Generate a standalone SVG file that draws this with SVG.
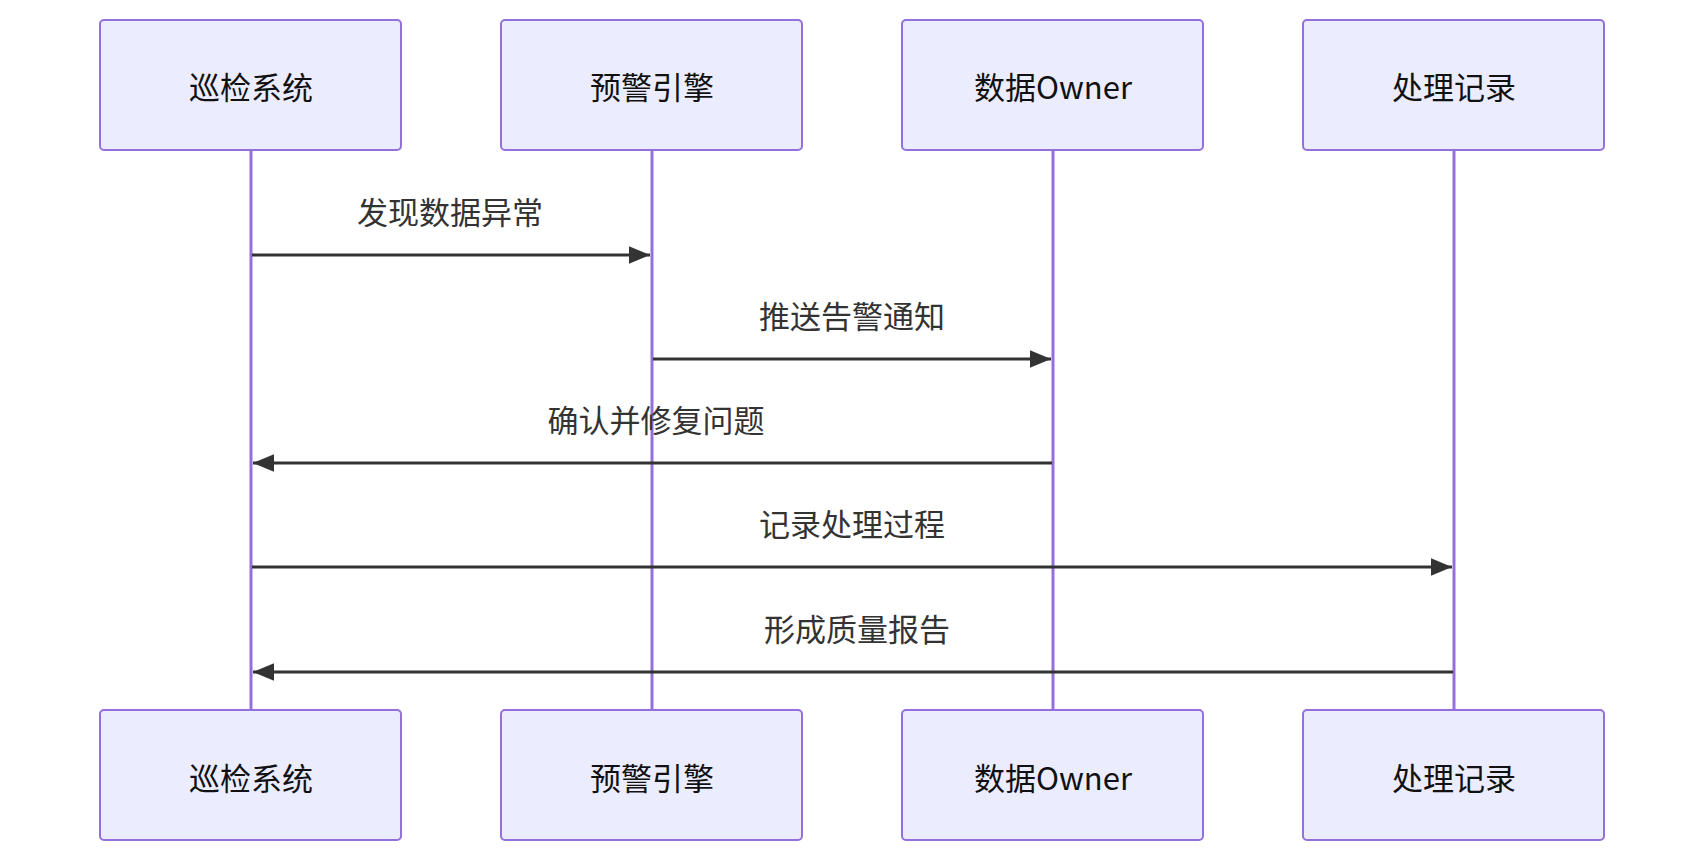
<svg xmlns="http://www.w3.org/2000/svg" width="1700" height="862" viewBox="0 0 1700 862">
<style>
.box{fill:#ECECFF;stroke:#9370DB;stroke-width:2}
.life{stroke:#9370DB;stroke-width:3}
.t{font-family:"Noto Sans CJK SC","Noto Sans",sans-serif;font-size:31px;fill:#111;text-anchor:middle;dominant-baseline:central}
.msg{stroke:#333;stroke-width:3;fill:none;marker-end:url(#ah)}
.ml{font-family:"Noto Sans CJK SC","Noto Sans",sans-serif;font-size:31px;fill:#333;text-anchor:middle;dominant-baseline:central}
</style>
<defs><marker id="ah" viewBox="0 0 12 10" refX="12" refY="5" markerWidth="7" markerHeight="6" markerUnits="strokeWidth" orient="auto"><path d="M0,0L12,5L0,10z" fill="#333"/></marker></defs>
<rect width="1700" height="862" fill="#fff"/>
<g id="lifelines">
<line class="life" x1="251" y1="150" x2="251" y2="710"/>
<line class="life" x1="652" y1="150" x2="652" y2="710"/>
<line class="life" x1="1053" y1="150" x2="1053" y2="710"/>
<line class="life" x1="1454" y1="150" x2="1454" y2="710"/>
</g>
<g id="n1"><rect class="box" x="100" y="20" width="301" height="130" rx="4"/><text class="t" x="251" y="85">巡检系统</text></g>
<g id="n2"><rect class="box" x="501" y="20" width="301" height="130" rx="4"/><text class="t" x="652" y="85">预警引擎</text></g>
<g id="n3"><rect class="box" x="902" y="20" width="301" height="130" rx="4"/><text class="t" x="1053" y="85">数据Owner</text></g>
<g id="n4"><rect class="box" x="1303" y="20" width="301" height="130" rx="4"/><text class="t" x="1454" y="85">处理记录</text></g>
<g id="n1b"><rect class="box" x="100" y="710" width="301" height="130" rx="4"/><text class="t" x="251" y="776">巡检系统</text></g>
<g id="n2b"><rect class="box" x="501" y="710" width="301" height="130" rx="4"/><text class="t" x="652" y="776">预警引擎</text></g>
<g id="n3b"><rect class="box" x="902" y="710" width="301" height="130" rx="4"/><text class="t" x="1053" y="776">数据Owner</text></g>
<g id="n4b"><rect class="box" x="1303" y="710" width="301" height="130" rx="4"/><text class="t" x="1454" y="776">处理记录</text></g>
<g id="connectors">
<line class="msg" x1="252" y1="255" x2="650" y2="255"/>
<text class="ml" x="450" y="210">发现数据异常</text>
<line class="msg" x1="653" y1="359" x2="1051" y2="359"/>
<text class="ml" x="852" y="314">推送告警通知</text>
<line class="msg" x1="1052" y1="463" x2="253" y2="463"/>
<text class="ml" x="656" y="418">确认并修复问题</text>
<line class="msg" x1="252" y1="567" x2="1452" y2="567"/>
<text class="ml" x="852" y="522">记录处理过程</text>
<line class="msg" x1="1453" y1="672" x2="253" y2="672"/>
<text class="ml" x="857" y="627">形成质量报告</text>
</g>
</svg>
